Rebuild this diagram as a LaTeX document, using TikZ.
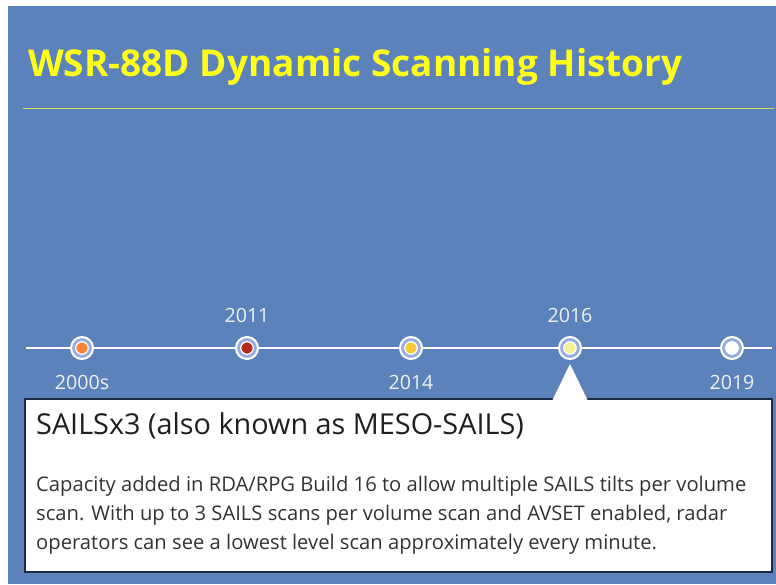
\documentclass[tikz,border=0pt]{standalone}
\usepackage{fontspec}
\setmainfont{Open Sans}
\begin{document}
\begin{tikzpicture}[x=1pt,y=-1pt,
  yr/.style={font=\fontsize{19.6}{22}\selectfont, text=white!94!black, inner sep=0pt},
  bodyline/.style={anchor=base west, inner sep=0pt, text=black!80, font=\fontsize{20.2}{29}\selectfont},
  dotring/.style={circle, minimum size=22pt, inner sep=0pt, draw=white, line width=2pt, fill=blue!20!white!55!bgblue},
  dotcore/.style={circle, minimum size=12.5pt, inner sep=0pt, draw=white, line width=1.2pt}]
\definecolor{bgblue}{HTML}{5B82BB}
\definecolor{titleyel}{HTML}{FFFF1A}
\definecolor{ruleyel}{HTML}{D6E35A}
\definecolor{boxedge}{HTML}{1E2A45}
\definecolor{c1}{HTML}{F6873A}
\definecolor{c2}{HTML}{B12B1C}
\definecolor{c3}{HTML}{F5CC34}
\definecolor{c4}{HTML}{F7EE98}
\definecolor{c5}{HTML}{FFFFFF}
\useasboundingbox (0,0) rectangle (776,584);
\fill[white] (0,0) rectangle (776,584);
\fill[bgblue] (8,6) rectangle (776,584);
% title
\node[anchor=base west, inner sep=0pt, text=titleyel, font=\fontsize{37}{40}\selectfont\bfseries] (title) at (28,76) {WSR-88D Dynamic Scanning History};
\coordinate (r1) at (23,108);
\coordinate (r2) at (774,108);
\draw[ruleyel, line width=1pt] (r1) -- (r2);
% timeline
\coordinate (t1) at (26,348);
\coordinate (t2) at (772,348);
\draw[white, line width=2.5pt] (t1) -- (t2);
\foreach \x/\c/\n in {82/c1/a,247/c2/b,411/c3/c,570/c4/d,732/c5/e}{
  \node[dotring] (ring\n) at (\x,348) {};
  \node[dotcore, fill=\c] (dot\n) at (\x,348) {};
}
\node[yr, anchor=base] (ya) at (82,389) {2000s};
\node[yr, anchor=base] (yb) at (247,322) {2011};
\node[yr, anchor=base] (yc) at (411,389) {2014};
\node[yr, anchor=base] (yd) at (570,322) {2016};
\node[yr, anchor=base] (ye) at (732,389) {2019};
% callout
\fill[white] (25,399) rectangle (772,572);
\draw[boxedge, line width=1.3pt] (553,399) -- (25,399) -- (25,572) -- (772,572) -- (772,399) -- (587,399);
\fill[white] (552.5,400) -- (570,364) -- (587.5,400) -- cycle;
\node[anchor=base west, inner sep=0pt, text=black!88, font=\fontsize{28.8}{32}\selectfont] (head) at (36,434) {SAILSx3 (also known as MESO-SAILS)};
\node[bodyline] (body1) at (36,491) {Capacity added in RDA/RPG Build 16 to allow multiple SAILS tilts per volume};
\node[bodyline] (body2) at (36,520) {scan. With up to 3 SAILS scans per volume scan and AVSET enabled, radar};
\node[bodyline] (body3) at (36,549) {operators can see a lowest level scan approximately every minute.};
\end{tikzpicture}
\end{document}
